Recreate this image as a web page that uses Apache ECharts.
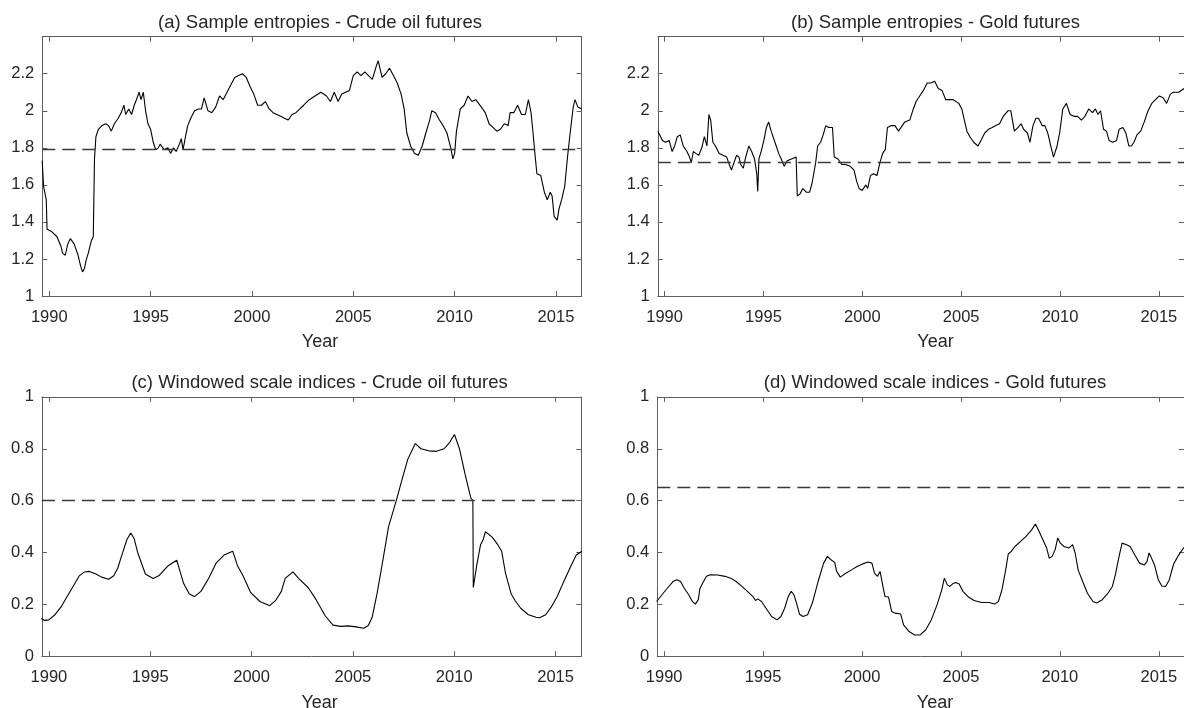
<!DOCTYPE html>
<html>
<head>
<meta charset="utf-8">
<script src="https://cdn.jsdelivr.net/npm/echarts@6/dist/echarts.min.js"></script>
<style>
html,body{margin:0;padding:0;background:#ffffff;}
#chart{width:1184px;height:708px;}
</style>
</head>
<body>
<div id="chart"></div>
<script>
// ---------------- data ----------------
const xTicks = [1990, 1995, 2000, 2005, 2010, 2015];
const yTicksEntropy = [1, 1.2, 1.4, 1.6, 1.8, 2, 2.2];
const yTicksScale = [0, 0.2, 0.4, 0.6, 0.8, 1];
const panelTitles = [
  '(a) Sample entropies - Crude oil futures',
  '(b) Sample entropies - Gold futures',
  '(c) Windowed scale indices - Crude oil futures',
  '(d) Windowed scale indices - Gold futures'
];
const xAxisName = 'Year';
const thresholds = [1.795, 1.72, 0.60, 0.645];

// (a) Sample entropies - Crude oil
const yearsA = [1989.65,1989.72,1989.85,1989.89,1990.09,1990.38,1990.57,1990.66,1990.79,1990.91,1991.04,1991.13,1991.23,1991.42,1991.55,1991.64,1991.74,1991.81,1991.92,1992.08,1992.17,1992.23,1992.30,1992.42,1992.60,1992.79,1992.92,1993.06,1993.21,1993.40,1993.55,1993.68,1993.77,1993.92,1994.06,1994.19,1994.30,1994.43,1994.53,1994.64,1994.75,1994.87,1995.00,1995.13,1995.25,1995.38,1995.47,1995.66,1995.85,1995.98,1996.13,1996.26,1996.42,1996.51,1996.60,1996.72,1996.83,1996.98,1997.17,1997.36,1997.51,1997.64,1997.83,1998.02,1998.21,1998.40,1998.58,1998.77,1998.96,1999.15,1999.34,1999.53,1999.72,1999.91,2000.09,2000.28,2000.47,2000.66,2000.85,2001.04,2001.23,2001.42,2001.60,2001.79,2001.98,2002.17,2002.36,2002.55,2002.83,2003.11,2003.40,2003.68,2003.87,2004.06,2004.25,2004.43,2004.62,2004.81,2005.00,2005.19,2005.38,2005.57,2005.75,2005.94,2006.13,2006.23,2006.42,2006.60,2006.79,2006.98,2007.17,2007.36,2007.51,2007.64,2007.83,2008.02,2008.21,2008.40,2008.58,2008.77,2008.87,2009.06,2009.25,2009.43,2009.62,2009.81,2009.91,2010.00,2010.09,2010.28,2010.47,2010.66,2010.85,2011.04,2011.32,2011.51,2011.70,2011.89,2012.08,2012.26,2012.45,2012.64,2012.74,2012.92,2013.11,2013.30,2013.49,2013.64,2013.77,2013.87,2013.96,2014.06,2014.25,2014.34,2014.43,2014.57,2014.72,2014.81,2014.91,2015.06,2015.15,2015.28,2015.43,2015.57,2015.70,2015.85,2015.94,2016.08,2016.27];
const valuesA = [1.73,1.59,1.52,1.36,1.35,1.32,1.27,1.23,1.22,1.28,1.31,1.30,1.28,1.22,1.16,1.13,1.15,1.19,1.23,1.30,1.32,1.74,1.86,1.90,1.92,1.93,1.92,1.89,1.93,1.96,1.99,2.03,1.98,2.01,1.98,2.03,2.06,2.10,2.06,2.10,2.00,1.93,1.90,1.83,1.79,1.80,1.82,1.79,1.80,1.77,1.80,1.78,1.82,1.85,1.79,1.86,1.92,1.96,2.00,2.01,2.01,2.07,2.00,1.99,2.02,2.08,2.06,2.10,2.14,2.18,2.19,2.20,2.18,2.13,2.09,2.03,2.03,2.05,2.01,1.99,1.98,1.97,1.96,1.95,1.98,1.99,2.01,2.03,2.06,2.08,2.10,2.08,2.05,2.10,2.05,2.09,2.10,2.11,2.19,2.21,2.19,2.21,2.19,2.17,2.24,2.27,2.18,2.20,2.23,2.19,2.15,2.09,2.01,1.88,1.81,1.77,1.76,1.81,1.88,1.95,2.00,1.99,1.95,1.92,1.88,1.80,1.74,1.77,1.89,2.01,2.03,2.08,2.05,2.06,2.02,1.99,1.93,1.91,1.89,1.90,1.93,1.92,1.99,1.99,2.03,1.98,1.98,2.06,1.99,1.88,1.77,1.66,1.65,1.65,1.56,1.52,1.56,1.54,1.43,1.41,1.47,1.52,1.59,1.75,1.88,2.02,2.06,2.02,2.01];

// (b) Sample entropies - Gold
const yearsB = [1989.66,1989.76,1989.89,1990.04,1990.23,1990.38,1990.51,1990.64,1990.79,1990.94,1991.13,1991.26,1991.35,1991.45,1991.58,1991.73,1991.88,1992.01,1992.14,1992.24,1992.33,1992.44,1992.57,1992.76,1992.95,1993.14,1993.27,1993.38,1993.51,1993.64,1993.76,1993.85,1993.98,1994.08,1994.26,1994.40,1994.55,1994.66,1994.71,1994.77,1994.88,1995.02,1995.15,1995.26,1995.39,1995.58,1995.77,1995.90,1996.05,1996.20,1996.42,1996.65,1996.71,1996.84,1996.99,1997.18,1997.33,1997.46,1997.64,1997.74,1997.89,1998.02,1998.15,1998.30,1998.49,1998.58,1998.77,1998.96,1999.15,1999.39,1999.58,1999.71,1999.84,1999.99,2000.18,2000.27,2000.41,2000.56,2000.74,2000.89,2001.03,2001.16,2001.27,2001.46,2001.65,2001.83,2002.02,2002.15,2002.40,2002.58,2002.72,2002.90,2003.09,2003.28,2003.47,2003.66,2003.84,2004.03,2004.22,2004.41,2004.59,2004.69,2004.88,2005.03,2005.16,2005.29,2005.44,2005.63,2005.85,2006.00,2006.19,2006.38,2006.57,2006.75,2006.94,2007.13,2007.36,2007.51,2007.69,2007.88,2008.03,2008.16,2008.35,2008.48,2008.63,2008.78,2008.91,2009.10,2009.23,2009.38,2009.53,2009.67,2009.77,2009.85,2009.98,2010.14,2010.32,2010.51,2010.70,2010.89,2011.08,2011.26,2011.45,2011.64,2011.79,2011.92,2012.05,2012.20,2012.35,2012.48,2012.67,2012.86,2012.99,2013.18,2013.33,2013.48,2013.61,2013.74,2013.89,2014.08,2014.26,2014.45,2014.64,2014.83,2015.02,2015.21,2015.39,2015.58,2015.73,2016.00,2016.27];
const valuesB = [1.89,1.88,1.84,1.83,1.84,1.78,1.81,1.86,1.87,1.81,1.78,1.75,1.72,1.78,1.77,1.76,1.80,1.86,1.81,1.98,1.95,1.83,1.81,1.77,1.76,1.75,1.71,1.68,1.72,1.76,1.75,1.71,1.69,1.74,1.81,1.78,1.74,1.66,1.565,1.74,1.78,1.84,1.91,1.94,1.89,1.83,1.77,1.74,1.70,1.73,1.74,1.75,1.54,1.55,1.58,1.56,1.56,1.61,1.72,1.81,1.83,1.87,1.92,1.91,1.91,1.75,1.74,1.71,1.71,1.70,1.68,1.62,1.58,1.57,1.60,1.58,1.65,1.66,1.65,1.72,1.77,1.79,1.91,1.92,1.92,1.89,1.92,1.94,1.95,2.01,2.05,2.08,2.11,2.15,2.15,2.16,2.12,2.11,2.06,2.06,2.06,2.07,2.04,2.01,1.95,1.89,1.86,1.83,1.81,1.84,1.88,1.90,1.91,1.92,1.93,1.97,2.00,2.00,1.89,1.91,1.93,1.90,1.88,1.83,1.92,1.96,1.96,1.92,1.92,1.88,1.81,1.75,1.74,1.81,1.88,2.01,2.04,1.98,1.97,1.97,1.95,1.97,2.01,1.99,2.01,1.98,2.00,1.90,1.89,1.84,1.83,1.84,1.90,1.91,1.88,1.81,1.81,1.83,1.87,1.89,1.94,2.00,2.04,2.06,2.08,2.07,2.04,2.09,2.10,2.10,2.12];

// (c) Windowed scale indices - Crude oil
const yearsC = [1989.62,1989.80,1990.00,1990.30,1990.60,1990.90,1991.20,1991.50,1991.75,1992.00,1992.30,1992.60,1992.95,1993.20,1993.40,1993.60,1993.85,1994.04,1994.20,1994.38,1994.76,1995.14,1995.42,1995.90,1996.31,1996.46,1996.65,1996.93,1997.18,1997.50,1997.88,1998.26,1998.64,1999.07,1999.30,1999.58,1999.96,2000.43,2000.90,2001.19,2001.47,2001.66,2002.04,2002.32,2002.79,2003.17,2003.64,2004.02,2004.40,2004.78,2005.16,2005.53,2005.76,2005.95,2006.19,2006.48,2006.76,2007.14,2007.42,2007.71,2008.08,2008.36,2008.75,2009.12,2009.50,2009.78,2010.01,2010.26,2010.54,2010.82,2010.92,2010.94,2011.11,2011.30,2011.43,2011.47,2011.54,2011.86,2012.15,2012.34,2012.53,2012.81,2013.00,2013.28,2013.66,2014.04,2014.22,2014.51,2014.79,2015.08,2015.36,2015.74,2016.02,2016.30];
const valuesC = [0.145,0.138,0.140,0.160,0.190,0.230,0.270,0.310,0.325,0.327,0.318,0.305,0.297,0.310,0.340,0.390,0.450,0.475,0.455,0.400,0.317,0.300,0.310,0.350,0.370,0.330,0.280,0.240,0.230,0.250,0.300,0.360,0.390,0.405,0.350,0.310,0.245,0.210,0.195,0.215,0.250,0.300,0.325,0.300,0.265,0.220,0.155,0.120,0.115,0.117,0.113,0.108,0.118,0.150,0.240,0.370,0.500,0.600,0.680,0.760,0.820,0.800,0.792,0.790,0.800,0.825,0.855,0.800,0.700,0.610,0.600,0.265,0.350,0.430,0.450,0.450,0.480,0.460,0.430,0.405,0.320,0.240,0.215,0.185,0.160,0.150,0.148,0.160,0.190,0.230,0.280,0.345,0.390,0.405];

// (d) Windowed scale indices - Gold
const yearsD = [1989.62,1989.89,1990.17,1990.45,1990.64,1990.83,1991.01,1991.24,1991.43,1991.58,1991.73,1991.80,1991.95,1992.14,1992.33,1992.70,1993.08,1993.36,1993.64,1993.93,1994.21,1994.49,1994.62,1994.73,1994.92,1995.15,1995.43,1995.71,1995.90,1996.09,1996.27,1996.42,1996.56,1996.69,1996.84,1997.02,1997.25,1997.49,1997.78,1998.06,1998.25,1998.43,1998.62,1998.72,1998.90,1999.18,1999.47,1999.75,2000.03,2000.31,2000.50,2000.63,2000.78,2000.91,2001.01,2001.16,2001.34,2001.50,2001.68,2001.95,2002.10,2002.38,2002.66,2002.94,2003.22,2003.50,2003.79,2004.03,2004.16,2004.31,2004.44,2004.58,2004.73,2004.91,2005.10,2005.38,2005.66,2006.04,2006.42,2006.70,2006.89,2007.07,2007.26,2007.39,2007.54,2007.73,2008.01,2008.29,2008.58,2008.76,2008.95,2009.14,2009.33,2009.46,2009.61,2009.76,2009.89,2010.02,2010.21,2010.45,2010.64,2010.77,2010.92,2011.15,2011.39,2011.67,2011.86,2012.14,2012.43,2012.65,2012.80,2012.99,2013.14,2013.37,2013.55,2013.78,2014.02,2014.27,2014.40,2014.50,2014.59,2014.78,2014.97,2015.15,2015.34,2015.53,2015.71,2015.77,2016.00,2016.27];
const valuesD = [0.211,0.237,0.263,0.288,0.295,0.288,0.263,0.237,0.211,0.201,0.218,0.259,0.282,0.308,0.314,0.313,0.308,0.301,0.288,0.269,0.250,0.230,0.215,0.221,0.211,0.185,0.153,0.140,0.153,0.185,0.230,0.250,0.237,0.205,0.162,0.153,0.160,0.205,0.288,0.359,0.385,0.372,0.362,0.327,0.305,0.320,0.333,0.346,0.356,0.363,0.359,0.320,0.308,0.327,0.288,0.230,0.228,0.172,0.166,0.163,0.121,0.095,0.082,0.082,0.102,0.140,0.198,0.256,0.301,0.275,0.269,0.279,0.284,0.278,0.250,0.228,0.215,0.207,0.207,0.201,0.211,0.256,0.333,0.394,0.404,0.423,0.443,0.462,0.488,0.510,0.481,0.449,0.417,0.378,0.385,0.411,0.456,0.436,0.423,0.417,0.430,0.398,0.333,0.288,0.243,0.211,0.205,0.218,0.243,0.269,0.314,0.385,0.436,0.430,0.423,0.391,0.359,0.352,0.365,0.398,0.385,0.352,0.295,0.271,0.269,0.295,0.346,0.359,0.390,0.420];

// ---------------- layout / style ----------------
const FONT = '"Liberation Sans", Arial, Helvetica, sans-serif';
const TXT = '#262626';
const AXC = '#5e5e5e';
const X_MIN = 1989.655, X_MAX = 2016.27;
const PW = 539.4, PH = 259.3;

const panels = [
  {left: 42.3,  top: 36.7,  ymin: 1, ymax: 2.4, yt: yTicksEntropy, xs: yearsA, ys: valuesA},
  {left: 657.8, top: 36.7,  ymin: 1, ymax: 2.4, yt: yTicksEntropy, xs: yearsB, ys: valuesB},
  {left: 41.9,  top: 396.9, ymin: 0, ymax: 1,   yt: yTicksScale,   xs: yearsC, ys: valuesC},
  {left: 657.3, top: 396.9, ymin: 0, ymax: 1,   yt: yTicksScale,   xs: yearsD, ys: valuesD}
];

const fmt = v => String(parseFloat(Number(v).toFixed(2)));

const grid = [], xAxis = [], yAxis = [], series = [], graphic = [];
panels.forEach((p, i) => {
  grid.push({left: p.left, top: p.top, width: PW, height: PH, containLabel: false});
  const lineS = {show: true, onZero: false, lineStyle: {color: AXC, width: 1}};
  const tickS = {show: true, inside: true, length: 5, customValues: xTicks, lineStyle: {color: AXC, width: 1}};
  xAxis.push({
    type: 'value', gridIndex: i, position: 'bottom', min: X_MIN, max: X_MAX,
    axisLine: lineS, axisTick: tickS, splitLine: {show: false},
    axisLabel: {show: true, customValues: xTicks, margin: 12.5, color: TXT, fontSize: 16.5, fontFamily: FONT, formatter: v => String(Math.round(v))}
  });
  xAxis.push({
    type: 'value', gridIndex: i, position: 'top', min: X_MIN, max: X_MAX,
    axisLine: lineS, axisTick: tickS, splitLine: {show: false}, axisLabel: {show: false}
  });
  const ytickS = {show: true, inside: true, length: 5, customValues: p.yt, lineStyle: {color: AXC, width: 1}};
  yAxis.push({
    type: 'value', gridIndex: i, position: 'left', min: p.ymin, max: p.ymax,
    axisLine: lineS, axisTick: ytickS, splitLine: {show: false},
    axisLabel: {show: true, customValues: p.yt, margin: 8, color: TXT, fontSize: 16.5, fontFamily: FONT, formatter: fmt}
  });
  yAxis.push({
    type: 'value', gridIndex: i, position: 'right', min: p.ymin, max: p.ymax,
    axisLine: lineS, axisTick: ytickS, splitLine: {show: false}, axisLabel: {show: false}
  });
  const n = Math.min(p.xs.length, p.ys.length);
  const data = [];
  for (let k = 0; k < n; k++) data.push([p.xs[k], p.ys[k]]);
  series.push({
    type: 'line', xAxisIndex: 2 * i, yAxisIndex: 2 * i, data: data,
    showSymbol: false, symbol: 'none', smooth: false, clip: true, z: 3,
    lineStyle: {color: '#000000', width: 1.1},
    markLine: {
      symbol: 'none', silent: true, animation: false, label: {show: false},
      lineStyle: {type: [13, 7], color: '#3a3a3a', width: 1.3},
      data: [{yAxis: thresholds[i]}]
    }
  });
  const cx = p.left + PW / 2 + 8;
  graphic.push({
    type: 'text', x: cx, y: p.top - 14, silent: true,
    style: {text: panelTitles[i], fill: TXT, font: '18.5px ' + FONT, align: 'center', verticalAlign: 'middle'}
  });
  graphic.push({
    type: 'text', x: cx, y: p.top + PH + 46.5, silent: true,
    style: {text: xAxisName, fill: TXT, font: '18px ' + FONT, align: 'center', verticalAlign: 'middle'}
  });
});

const chart = echarts.init(document.getElementById('chart'), null, {renderer: 'canvas'});
chart.setOption({
  animation: false,
  backgroundColor: '#ffffff',
  grid, xAxis, yAxis, series, graphic
});
</script>
</body>
</html>
